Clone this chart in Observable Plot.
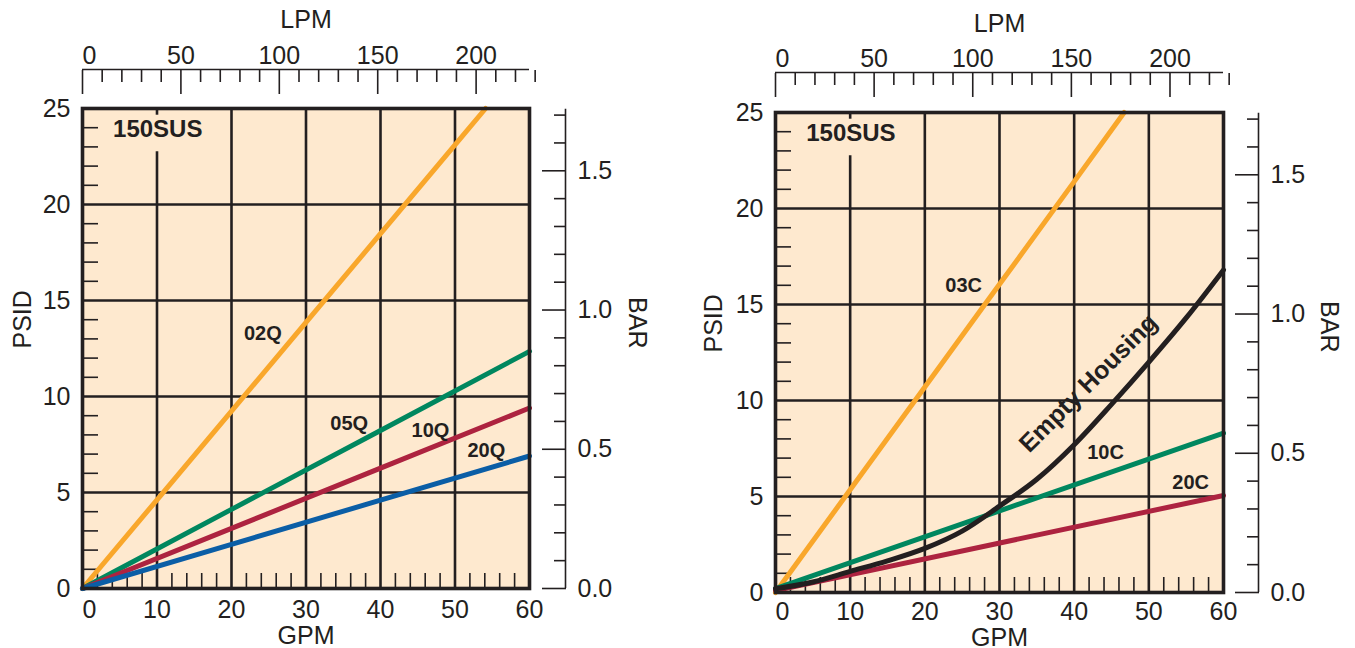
<!DOCTYPE html>
<html><head><meta charset="utf-8">
<script src="https://cdn.jsdelivr.net/npm/d3@7"></script>
<script src="https://cdn.jsdelivr.net/npm/@observablehq/plot@0.6"></script>
<style>
body{margin:0;background:#fff;}
#wrap{display:flex;width:1355px;height:648px;}
</style></head><body><div id="wrap"></div>
<script>
// ---------- unit conversions ----------
const LPM_PER_GPM = 3.78541;
const PSI_PER_BAR = 14.5038;

// ---------- ticks ----------
const psiTicks = [0, 5, 10, 15, 20, 25];
const psiMinor = [1, 2, 3, 4, 6, 7, 8, 9, 11, 12, 13, 14, 16, 17, 18, 19, 21, 22, 23, 24];
const gpmTicks = [0, 10, 20, 30, 40, 50, 60];
const gpmMinor = [2, 4, 6, 8, 12, 14, 16, 18, 22, 24, 26, 28, 32, 34, 36, 38, 42, 44, 46, 48, 52, 54, 56, 58];
const lpmTicks = [0, 50, 100, 150, 200];
const lpmMinor = [10, 20, 30, 40, 60, 70, 80, 90, 110, 120, 130, 140, 160, 170, 180, 190, 210, 220, 230];
const barTicks = [0, 0.5, 1.0, 1.5];
const barMinor = [0.1, 0.2, 0.3, 0.4, 0.6, 0.7, 0.8, 0.9, 1.1, 1.2, 1.3, 1.4, 1.6, 1.7];
const barTop = 1.7;
const gridPsi = [5, 10, 15, 20];
const gridGpm = [20, 30, 40, 50];

// ---------- left chart (150SUS, Q elements) ----------
const gpm02Q = [0, 10, 20, 30, 40, 50, 54.1];
const psi02Q = [0, 4.62, 9.24, 13.86, 18.48, 23.1, 25];
const gpmLeft = [0, 20, 40, 60];
const psi05Q = [0, 4.12, 8.23, 12.35];
const psi10Q = [0, 3.13, 6.27, 9.4];
const psi20Q = [0, 2.3, 4.6, 6.9];
const leftLabelText = ["02Q", "05Q", "10Q", "20Q"];
const leftLabelGpm = [24.2, 35.8, 46.7, 54.2];
const leftLabelPsi = [13.3, 8.6, 8.2, 7.2];

// ---------- right chart (150SUS, C elements) ----------
const gpm03C = [0, 10, 20, 30, 40, 46.7];
const psi03C = [0, 5.35, 10.7, 16.05, 21.4, 25];
const gpmEmpty = [0, 5, 10, 15, 20, 25, 30, 35, 40, 45, 50, 55, 60];
const psiEmpty = [0.2, 0.55, 1.1, 1.65, 2.3, 3.2, 4.5, 5.9, 7.7, 9.8, 12.0, 14.3, 16.8];
const gpmRight = [0, 60];
const psi10C = [0.2, 8.3];
const psi20C = [0.1, 5.05];
const rightLabelText = ["03C", "10C", "20C"];
const rightLabelGpm = [25.2, 44.2, 55.6];
const rightLabelPsi = [16.0, 7.3, 5.7];
const emptyLabel = "Empty Housing";
const emptyLabelGpm = 41.9;
const emptyLabelPsi = 10.9;

const viscosity = "150SUS";
const titleGpm = 10.1, titlePsi = 23.9;

// ---------- styles ----------
const INK = "#231f20", BG = "#fee9cf";
const ORANGE = "#f9a72b", GREEN = "#00875f", RED = "#ad2340", BLUE = "#0b5ea6", BLACK = "#231f20";
const FONT = "'Liberation Sans', Arial, Helvetica, sans-serif";

function panel(p) {
  const toGpm = l => l / LPM_PER_GPM;
  const toPsi = b => b * PSI_PER_BAR;
  const marks = [
    Plot.frame({fill: BG, stroke: null}),
    Plot.ruleY(gridPsi, {stroke: INK, strokeWidth: 2.6}),
    Plot.ruleX(gridGpm, {stroke: INK, strokeWidth: 2.6}),
    Plot.ruleX([10], {y1: 0, y2: 22.75, stroke: INK, strokeWidth: 2.6}),
    Plot.ruleX([10], {y1: 24.65, y2: 25, stroke: INK, strokeWidth: 2.6}),
    // inner minor ticks
    Plot.axisY({ticks: psiMinor, anchor: "left", tickSize: 16, dx: 16, tickFormat: () => "", stroke: INK, strokeWidth: 1.6, label: null}),
    Plot.axisX({ticks: gpmMinor, anchor: "bottom", tickSize: 15, dy: -15, tickFormat: () => "", stroke: INK, strokeWidth: 1.6, label: null}),
    // series
    ...p.series.map(s => Plot.line(d3.zip(s.gpm, s.psi), {x: d => d[0], y: d => d[1], stroke: s.color, strokeWidth: 5, curve: s.curve || "linear"})),
    Plot.frame({stroke: INK, strokeWidth: 3.6}),
    // main left / bottom tick labels
    Plot.axisY({ticks: psiTicks, anchor: "left", tickSize: 0, tickPadding: 12, label: null}),
    Plot.axisX({ticks: gpmTicks.slice(1), anchor: "bottom", tickSize: 0, tickPadding: p.gpmPad, label: null}),
    Plot.axisX({ticks: [0], anchor: "bottom", tickSize: 0, tickPadding: p.gpmPad, dx: 7, label: null}),
    // top LPM axis
    Plot.ruleY([25], {dy: -p.lpmLine, stroke: INK, strokeWidth: 1.6}),
    Plot.axisX({ticks: lpmTicks.map(toGpm), anchor: "top", tickSize: 24, dy: -(p.lpmLine - 24), tickFormat: () => "", stroke: INK, strokeWidth: 1.6, label: null}),
    Plot.axisX({ticks: lpmMinor.map(toGpm), anchor: "top", tickSize: 12, dy: -(p.lpmLine - 12), tickFormat: () => "", stroke: INK, strokeWidth: 1.6, label: null}),
    Plot.axisX({ticks: lpmTicks.slice(1).map(toGpm), anchor: "top", tickSize: 0, dy: -(p.lpmLine - 24), tickPadding: 30, tickFormat: d => Math.round(d * LPM_PER_GPM), label: null}),
    Plot.axisX({ticks: [0], anchor: "top", tickSize: 0, dy: -(p.lpmLine - 24), tickPadding: 30, dx: 7, tickFormat: () => "0", label: null}),
    // right BAR axis
    Plot.ruleX([60], {y1: 0, y2: toPsi(barTop) + 0.3, dx: p.barLine, stroke: INK, strokeWidth: 1.6}),
    Plot.axisY({ticks: barTicks.map(toPsi), anchor: "right", tickSize: 24, dx: p.barLine - 24, tickPadding: 12, tickFormat: d => (d / PSI_PER_BAR).toFixed(1), stroke: INK, strokeWidth: 1.6, label: null}),
    Plot.axisY({ticks: barMinor.map(toPsi), anchor: "right", tickSize: 12, dx: p.barLine - 12, tickFormat: () => "", stroke: INK, strokeWidth: 1.6, label: null}),
    // axis titles
    Plot.text(["PSID"], {frameAnchor: "left", dx: p.psidDx, rotate: -90, lineAnchor: "middle", fill: INK}),
    Plot.text(["BAR"], {frameAnchor: "right", dx: p.barDx, rotate: 90, lineAnchor: "middle", fill: INK}),
    Plot.text(["GPM"], {frameAnchor: "bottom", dy: p.gpmDy, lineAnchor: "middle", fill: INK}),
    Plot.text(["LPM"], {frameAnchor: "top", dy: -89, lineAnchor: "middle", fill: INK}),
    // annotations
    Plot.text([viscosity], {x: () => titleGpm, y: () => titlePsi, fontWeight: "bold", fontSize: 24, fill: INK}),
    Plot.text(p.labels.text, {x: (d, i) => p.labels.gpm[i], y: (d, i) => p.labels.psi[i], text: d => d, fontWeight: "bold", fontSize: 20, fill: INK}),
    ...(p.extra || [])
  ];
  return Plot.plot({
    width: p.width, height: 648,
    marginLeft: p.ml, marginRight: p.mr, marginTop: p.mt, marginBottom: p.mb,
    x: {domain: [0, 60], label: null},
    y: {domain: [0, 25], label: null},
    style: {fontFamily: FONT, fontSize: "25px", color: INK, background: "white", overflow: "visible"},
    marks
  });
}

const left = panel({
  width: 677, ml: 82, mr: 148, mt: 108, mb: 60,
  lpmLine: 39, barLine: 36, psidDx: -60, barDx: 107, gpmDy: 47, gpmPad: 12,
  series: [
    {gpm: gpm02Q, psi: psi02Q, color: ORANGE},
    {gpm: gpmLeft, psi: psi05Q, color: GREEN},
    {gpm: gpmLeft, psi: psi10Q, color: RED},
    {gpm: gpmLeft, psi: psi20Q, color: BLUE}
  ],
  labels: {text: leftLabelText, gpm: leftLabelGpm, psi: leftLabelPsi}
});

const right = panel({
  width: 678, ml: 98, mr: 132, mt: 112, mb: 56,
  lpmLine: 40, barLine: 35, psidDx: -62, barDx: 105, gpmDy: 45, gpmPad: 10,
  series: [
    {gpm: gpm03C, psi: psi03C, color: ORANGE},
    {gpm: gpmRight, psi: psi10C, color: GREEN},
    {gpm: gpmRight, psi: psi20C, color: RED},
    {gpm: gpmEmpty, psi: psiEmpty, color: BLACK, curve: "monotone-x"}
  ],
  labels: {text: rightLabelText, gpm: rightLabelGpm, psi: rightLabelPsi},
  extra: [Plot.text([emptyLabel], {x: () => emptyLabelGpm, y: () => emptyLabelPsi, rotate: -45, fontWeight: "bold", fontSize: 25, fill: INK})]
});

document.getElementById("wrap").append(left, right);
</script></body></html>
